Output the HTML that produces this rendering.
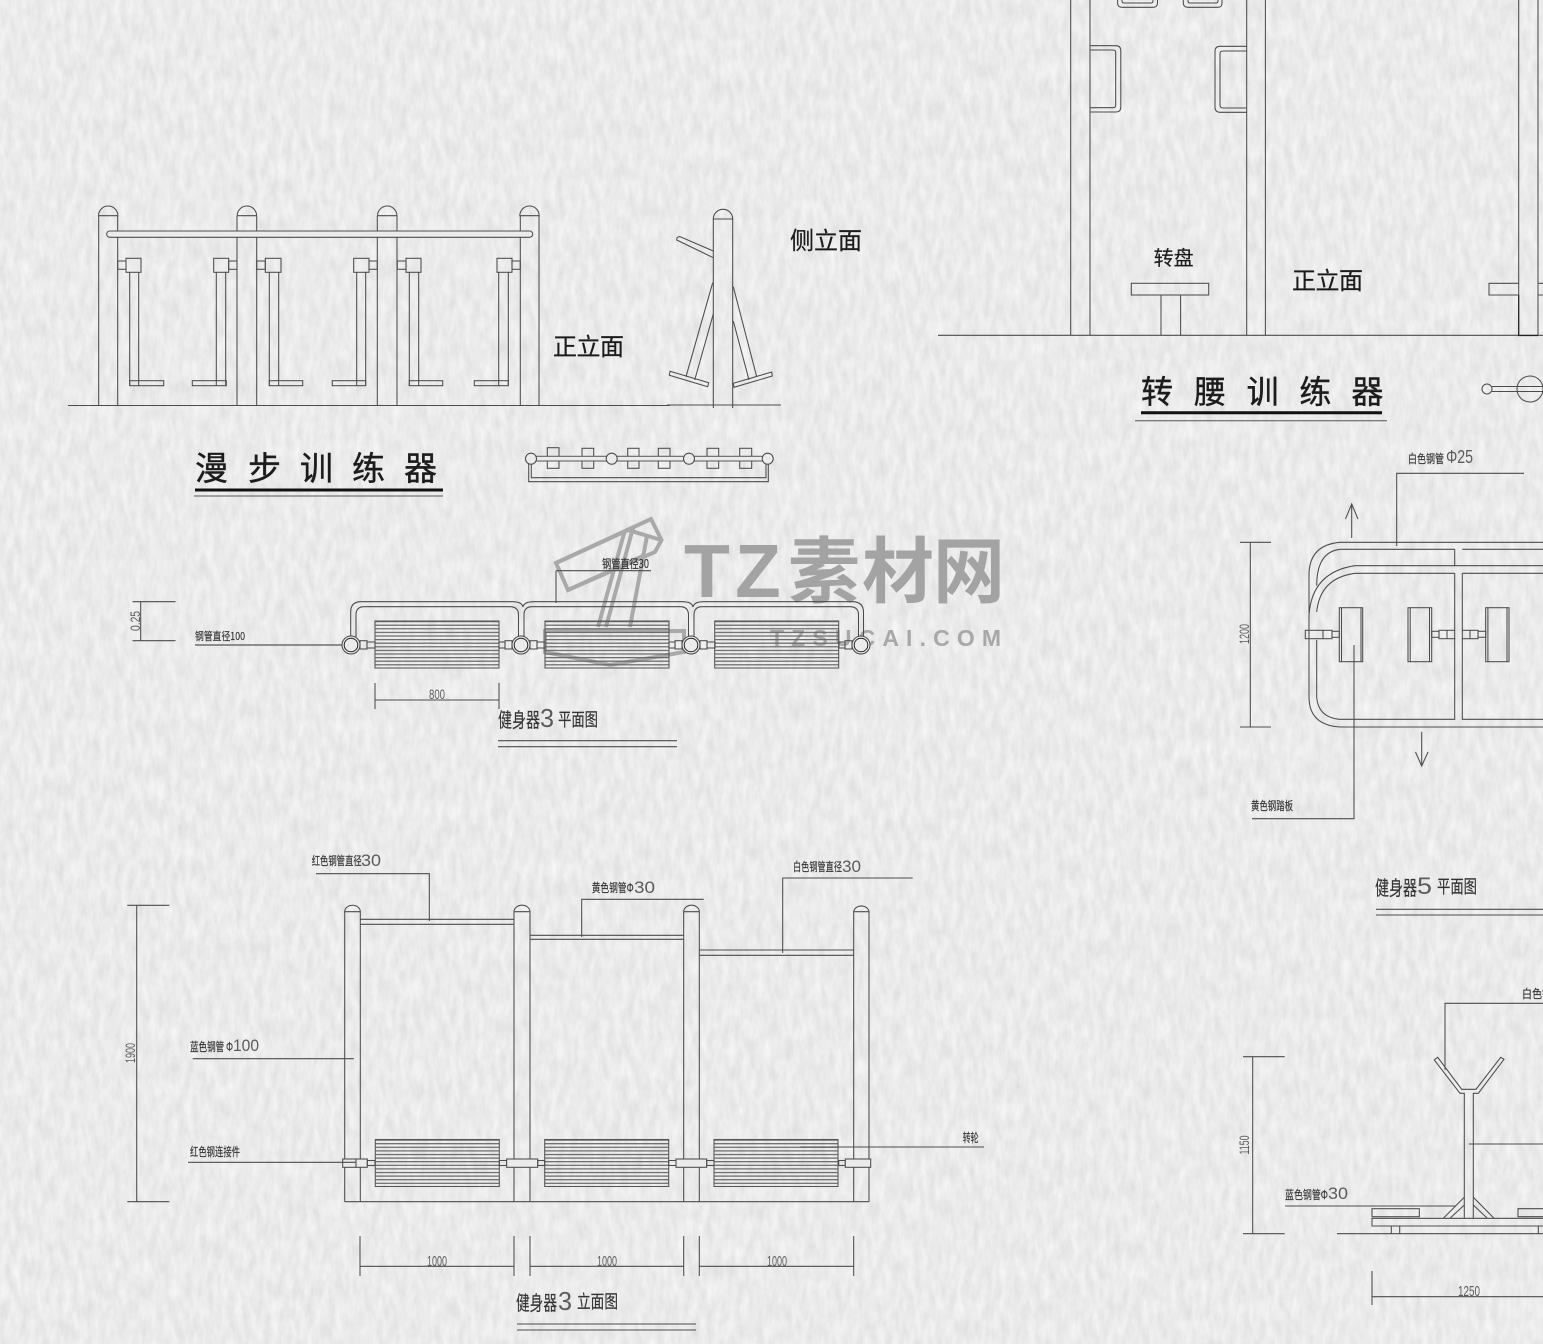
<!DOCTYPE html>
<html lang="zh">
<head>
<meta charset="utf-8">
<title>健身器 图纸</title>
<style>
html,body{margin:0;padding:0;background:#ebebeb;width:1543px;height:1344px;overflow:hidden}
svg{display:block}
text{font-family:"Liberation Sans","Noto Sans CJK SC","WenQuanYi Zen Hei",sans-serif;fill:#333;stroke:none}
.s{font-family:"Noto Sans CJK SC","WenQuanYi Zen Hei",sans-serif;fill:#333;stroke:#333;stroke-width:.15}
.n{font-family:"Liberation Sans",sans-serif;fill:#5c5c5c}
.h{font-family:"Noto Sans CJK SC","WenQuanYi Zen Hei",sans-serif;fill:#1c1c1c;stroke:#1c1c1c;stroke-width:.4}
.l{fill:none;stroke:#4c4c4c;stroke-width:1.05}
.wm{font-weight:700;fill:#a3a3a3}
</style>
</head>
<body>
<svg xmlns="http://www.w3.org/2000/svg" width="1543" height="1344" viewBox="0 0 1543 1344">
<defs>
<filter id="paper" x="0" y="0" width="100%" height="100%" color-interpolation-filters="sRGB">
<feTurbulence type="fractalNoise" baseFrequency="0.14 0.05" numOctaves="3" seed="7"/>
<feColorMatrix type="matrix" values="0.11 0 0 0 0.865  0.11 0 0 0 0.865  0.11 0 0 0 0.865  0 0 0 0 1"/>
</filter>
<pattern id="hatch" patternUnits="userSpaceOnUse" x="0" y="0" width="10" height="3.6">
<rect x="0" y="0" width="10" height="1.2" fill="#666"/>
</pattern>
<g id="roller"><rect x="0" y="0" width="124" height="47" fill="url(#hatch)" stroke="#555"/></g>
<g id="ring"><circle r="9" fill="#ebebeb" stroke="#444"/><circle r="6.8" fill="#ebebeb" stroke="#222"/></g>
<g id="dome"><path d="M0,9 A9.7,9.7 0 0 1 19.4,9 Z"/></g>
</defs>

<rect width="1543" height="1344" fill="#ebebeb"/>
<rect width="1543" height="1344" filter="url(#paper)"/>

<!-- watermark -->
<g>
<g fill="none" stroke="#a9a9a9" stroke-width="4">
<path d="M556,563 L651,519 L661.500,540 L655,552 L568,590 Z"/>
<path d="M556,563 L628,530 L648,536 L661,540 M568,590 L645,555"/>
<path d="M625,530 L598,627 M633,528 L606,627 M647,536 L630,627"/>
<path d="M545,631 H684 V652 L610,665 L545,652 Z"/>
</g>
<text class="wm" x="684" y="597" font-size="75">T</text>
<text class="wm" x="735" y="597" font-size="75">Z</text>
<text class="wm" x="788" y="597" font-size="72" style="font-family:'Noto Sans CJK SC',sans-serif">素</text>
<text class="wm" x="862" y="597" font-size="72" style="font-family:'Noto Sans CJK SC',sans-serif">材</text>
<text class="wm" x="933" y="597" font-size="72" style="font-family:'Noto Sans CJK SC',sans-serif">网</text>
<text class="wm" x="770" y="646" font-size="23" textLength="231" style="fill:#a8a8a8">TZSUCAI.COM</text>
</g>

<!-- 漫步训练器 elevation -->
<g class="l">
<path d="M68,405.500 H670 M667,405 H781"/>
<path d="M98.700,405.500 V216 M117.700,405.500 V216 M237,405.500 V216 M256.700,405.500 V216 M377.300,405.500 V216 M397,405.500 V216 M520.300,405.500 V216 M539,405.500 V216"/>
<use href="#dome" x="98.500" y="206.700"/><use href="#dome" x="237.200" y="206.700"/><use href="#dome" x="377.500" y="206.700"/><use href="#dome" x="519.800" y="206.700"/>
<rect x="106.700" y="231" width="426" height="6.300" rx="3" fill="#ebebeb" stroke="#4c4c4c"/>

<rect x="117.700" y="261" width="8.300" height="8.300"/><rect x="126" y="258.300" width="15" height="14"/>
<path d="M129.700,272.300 V385.700 M138.700,272.300 V380.700"/><rect x="129.700" y="380.700" width="34" height="5"/><path d="M138.700,380.700 V385.700"/>

<rect x="228.700" y="261" width="8.300" height="8.300"/><rect x="213.700" y="258.300" width="15" height="14"/>
<path d="M216.300,272.300 V380.700 M225.700,272.300 V385.700"/><rect x="192.300" y="380.700" width="34" height="5"/><path d="M216.300,380.700 V385.700"/>

<rect x="256.700" y="261" width="8.600" height="8.300"/><rect x="265.300" y="258.300" width="15.700" height="14"/>
<path d="M269.300,272.300 V385.700 M278.700,272.300 V380.700"/><rect x="269.300" y="380.700" width="33.400" height="5"/><path d="M278.700,380.700 V385.700"/>

<rect x="369" y="261" width="8.300" height="8.300"/><rect x="353.700" y="258.300" width="15.300" height="14"/>
<path d="M356.700,272.300 V380.700 M365.700,272.300 V385.700"/><rect x="332.300" y="380.700" width="33.400" height="5"/><path d="M356.700,380.700 V385.700"/>

<rect x="397.300" y="261" width="8.700" height="8.300"/><rect x="406" y="258.300" width="15" height="14"/>
<path d="M409.300,272.300 V385.700 M418.700,272.300 V380.700"/><rect x="409.300" y="380.700" width="33.400" height="5"/><path d="M418.700,380.700 V385.700"/>

<rect x="512" y="261" width="8.300" height="8.300"/><rect x="497" y="258.300" width="15" height="14"/>
<path d="M498.700,272.300 V380.700 M508.300,272.300 V385.700"/><rect x="474.300" y="380.700" width="34" height="5"/><path d="M498.700,380.700 V385.700"/>
</g>

<text class="h" font-size="33" x="195 248 300 352 404" y="480">漫步训练器</text>
<path d="M195,490 H443" stroke="#111" stroke-width="3" fill="none"/>
<path d="M194,496 H443" stroke="#555" stroke-width="1" fill="none"/>
<text class="h" font-size="24" x="553" y="355" textLength="71" style="stroke-width:.25">正立面</text>
<text class="h" font-size="24" x="790" y="249" textLength="72" style="stroke-width:.25">侧立面</text>

<!-- side view -->
<g class="l">
<path d="M713.300,408 V219 M732.700,408 V219 M713.300,219 H732.700" />
<path d="M713.300,219 A9.700,9.700 0 0 1 732.700,219"/>
<path d="M713.300,251 L680,236.700 Q676.500,236.500 676.700,240 L713.300,257.700"/>
<path d="M712.700,282.700 L686,376.700 M713.300,314 L694.700,380"/>
<polygon points="670,371.300 708.700,382.700 707.700,386.700 669.300,375.300"/>
<path d="M733.300,286.700 L756.700,376.700 M733.300,321 L749,380"/>
<polygon points="733.300,383.300 771.700,372 772.300,376 734,387.300"/>
</g>

<!-- plan of walker -->
<g class="l">
<rect x="547.300" y="447.700" width="11.700" height="20.600"/><rect x="582" y="448.300" width="11.700" height="20"/><rect x="627.700" y="448.300" width="11.300" height="20"/><rect x="658.300" y="448.300" width="11.700" height="20"/><rect x="707" y="448.300" width="11.700" height="20"/><rect x="739.700" y="448.300" width="12" height="20"/>
<rect x="531" y="456.300" width="237" height="4.700" fill="#ebebeb" stroke="#5c5c5c"/>
<path d="M528.700,462 V481.700 H768.300 V463 M531.300,464 V477.700 H766 V463"/>
<circle cx="531" cy="458.700" r="5.500" fill="#ebebeb"/><circle cx="611.700" cy="458.700" r="5.500" fill="#ebebeb"/><circle cx="689" cy="458.700" r="5.500" fill="#ebebeb"/><circle cx="767.700" cy="458.700" r="5.500" fill="#ebebeb"/>
</g>

<!-- 健身器3 plan -->
<g class="l">
<path d="M132.500,601.700 H175.500 M132.500,640.700 H175.500 M140.700,601.700 V640.700"/>
<path d="M195,645 H345" stroke="#555" stroke-width="1.300"/>
<path d="M556,570.700 H651 M556,570.700 V603"/>
<g fill="none">
<path d="M350.700,637 V612 Q350.700,601.700 361,601.700 H512 Q522,601.700 523,607 Q524,601.700 534,601.700 H682 Q692,601.700 693,607 Q694,601.700 704,601.700 H852 Q863.500,601.700 863.500,612 V637"/>
<path d="M356,637 V615 Q356,606.700 364,606.700 H510 Q518.500,606.700 518.500,615 V637 M524,637 V615 Q524,606.700 532,606.700 H680 Q688.500,606.700 688.500,615 V637 M694,637 V615 Q694,606.700 702,606.700 H850 Q858.500,606.700 858.500,615 V637"/>
</g>
<use href="#roller" x="375" y="621"/><use href="#roller" x="545" y="621"/><use href="#roller" x="714.700" y="621"/>
<rect x="360" y="640.700" width="7" height="8.300"/><rect x="367" y="642" width="8" height="6"/>
<rect x="499" y="642" width="6" height="6"/><rect x="505" y="640.700" width="7" height="8.300"/><rect x="530" y="640.700" width="7" height="8.300"/><rect x="537" y="642" width="8" height="6"/>
<rect x="669" y="642" width="6" height="6"/><rect x="675" y="640.700" width="7" height="8.300"/><rect x="700" y="640.700" width="7" height="8.300"/><rect x="707" y="642" width="8" height="6"/>
<rect x="839" y="642" width="6" height="6"/><rect x="845" y="640.700" width="7" height="8.300"/>
<path d="M375,700 H499 M375,683 V709 M499,683 V709"/>
<path d="M498,740.700 H677 M498,746.700 H677"/>
</g>
<use href="#ring" x="351" y="645"/><use href="#ring" x="521" y="645"/><use href="#ring" x="691" y="645"/><use href="#ring" x="861" y="645"/>
<text class="n" font-size="14" transform="translate(140,621) rotate(-90)" text-anchor="middle" textLength="20" lengthAdjust="spacingAndGlyphs">0.25</text>
<text class="s" font-size="11" x="195" y="640" textLength="50" lengthAdjust="spacingAndGlyphs">钢管直径100</text>
<text class="s" font-size="12" x="602" y="568" textLength="47" lengthAdjust="spacingAndGlyphs">钢管直径30</text>
<text class="n" font-size="14" x="429" y="699" textLength="16" lengthAdjust="spacingAndGlyphs">800</text>
<text class="s" font-size="20" x="498" y="727" textLength="42" lengthAdjust="spacingAndGlyphs">健身器</text>
<text class="n" font-size="26" x="540" y="727" textLength="14" lengthAdjust="spacingAndGlyphs">3</text>
<text class="s" font-size="18" x="558" y="726" textLength="40" lengthAdjust="spacingAndGlyphs">平面图</text>

<!-- 健身器3 elevation -->
<g class="l">
<path d="M344.700,1201.700 H869"/>
<path d="M344.700,1201.700 V911.700 M360.300,1201.700 V911.700 M514,1201.700 V911.700 M530,1201.700 V911.700 M683.700,1201.700 V911.700 M699.300,1201.700 V911.700 M853.700,1201.700 V911.700 M869,1201.700 V911.700"/>
<path d="M344.700,911.700 A7.800,6.500 0 0 1 360.300,911.700 Z M514,911.700 A8,6.500 0 0 1 530,911.700 Z M683.700,911.700 A7.800,6.500 0 0 1 699.300,911.700 Z M853.700,911.700 A7.700,6.500 0 0 1 869,911.700 Z"/>
<path d="M360.300,919.300 H514 M360.300,924.300 H514 M530,935.300 H683.700 M530,939.300 H683.700 M699.300,950 H853.700 M699.300,955.300 H853.700"/>
<use href="#roller" x="375.300" y="1139.500"/><use href="#roller" x="544.700" y="1139.500"/><use href="#roller" x="714" y="1139.500"/>
<rect x="342.700" y="1159" width="13.300" height="8.300" fill="#ebebeb"/><rect x="356" y="1159" width="11.300" height="8.300" fill="#ebebeb"/><rect x="367.300" y="1160.500" width="7.700" height="5"/>
<rect x="499.300" y="1160.500" width="7.400" height="5"/><rect x="506.700" y="1159" width="31" height="8.300" fill="#ebebeb"/><rect x="537.700" y="1160.500" width="7" height="5"/>
<rect x="668.700" y="1160.500" width="7.300" height="5"/><rect x="676" y="1159" width="30.700" height="8.300" fill="#ebebeb"/><rect x="706.700" y="1160.500" width="7.300" height="5"/>
<rect x="838.700" y="1160.500" width="6.600" height="5"/><rect x="845.300" y="1159" width="25.400" height="8.300" fill="#ebebeb"/>
<path d="M316,873.700 H429.300 V921"/>
<path d="M703.700,899.300 H581.700 V937"/>
<path d="M912.700,878 H782.700 V953"/>
<path d="M192.700,1058.700 H353.700"/>
<path d="M188,1162.300 H356"/>
<path d="M800,1147 H984"/>
<path d="M127.300,905.300 H169.300 M127.300,1201.700 H169.300 M136.700,905.300 V1201.700"/>
<path d="M360,1266.300 H514 M360,1236 V1276 M514,1236 V1276 M530,1266.300 H683.700 M530,1236 V1276 M683.700,1236 V1276 M699.300,1266.300 H853.700 M699.300,1236 V1276 M853.700,1236 V1276"/>
<path d="M517,1324 H696 M517,1330 H696"/>
</g>
<text class="s" font-size="12" x="311.700" y="865" textLength="50" lengthAdjust="spacingAndGlyphs">红色钢管直径</text>
<text class="n" font-size="17" x="361" y="866" textLength="20" lengthAdjust="spacingAndGlyphs">30</text>
<text class="s" font-size="12" x="591.700" y="892" textLength="42" lengthAdjust="spacingAndGlyphs">黄色钢管Φ</text>
<text class="n" font-size="17" x="634" y="893" textLength="21" lengthAdjust="spacingAndGlyphs">30</text>
<text class="s" font-size="12" x="793" y="871" textLength="49" lengthAdjust="spacingAndGlyphs">白色钢管直径</text>
<text class="n" font-size="17" x="842" y="872" textLength="19" lengthAdjust="spacingAndGlyphs">30</text>
<text class="s" font-size="12" x="190" y="1051" textLength="43" lengthAdjust="spacingAndGlyphs">蓝色钢管 Φ</text>
<text class="n" font-size="17" x="233" y="1051" textLength="26" lengthAdjust="spacingAndGlyphs">100</text>
<text class="s" font-size="12" x="190" y="1156" textLength="50" lengthAdjust="spacingAndGlyphs">红色钢连接件</text>
<text class="s" font-size="12" x="962.700" y="1142" textLength="16" lengthAdjust="spacingAndGlyphs">转轮</text>
<text class="n" font-size="14" transform="translate(135,1053) rotate(-90)" text-anchor="middle" textLength="20" lengthAdjust="spacingAndGlyphs">1900</text>
<text class="n" font-size="15" x="427" y="1266" textLength="20" lengthAdjust="spacingAndGlyphs">1000</text>
<text class="n" font-size="15" x="597" y="1266" textLength="20" lengthAdjust="spacingAndGlyphs">1000</text>
<text class="n" font-size="15" x="767" y="1266" textLength="20" lengthAdjust="spacingAndGlyphs">1000</text>
<text class="s" font-size="20" x="516" y="1310" textLength="41" lengthAdjust="spacingAndGlyphs">健身器</text>
<text class="n" font-size="26" x="558" y="1310" textLength="14" lengthAdjust="spacingAndGlyphs">3</text>
<text class="s" font-size="18" x="577" y="1308" textLength="41" lengthAdjust="spacingAndGlyphs">立面图</text>

<!-- 转腰训练器 elevation -->
<g class="l">
<path d="M938,335.300 H1543"/>
<path d="M1070.700,0 V335 M1090,0 V335 M1246.700,0 V335 M1265.400,0 V335 M1518.700,0 V295 M1538,0 V295"/>
<path d="M1518.700,295 V335.500 H1538" stroke="#222" stroke-width="1.300"/>
<path d="M1538,295 V335"/>
<path d="M1117.600,0 V3 Q1117.600,7.300 1122,7.300 H1153 Q1157.500,7.300 1157.500,3 V0 M1122,0 V1 Q1122,3 1124,3 H1151 Q1153,3 1153,1 V0"/>
<path d="M1183.300,0 V3 Q1183.300,7.300 1188,7.300 H1218 Q1222,7.300 1222,3 V0 M1188,0 V1 Q1188,3 1190,3 H1216 Q1218,3 1218,1 V0"/>
<path d="M1090,45.700 H1115.800 Q1120.800,45.700 1120.800,50.700 V107 Q1120.800,112 1115.800,112 H1090 M1090,50 H1113 Q1115.700,50 1115.700,52.700 V105 Q1115.700,107.700 1113,107.700 H1090"/>
<path d="M1246.700,46.300 H1220 Q1215,46.300 1215,51.300 V107.300 Q1215,112.300 1220,112.300 H1246.700 M1246.700,51 H1223 Q1220,51 1220,54 V105 Q1220,108 1223,108 H1246.700"/>
<rect x="1131.300" y="283.300" width="77.400" height="11.700"/>
<path d="M1161,295 V335 M1180.600,295 V335"/>
<path d="M1518.700,283.300 H1489 V295 H1518.700 M1538,283.300 H1543 M1538,295 H1543"/>
<circle cx="1487" cy="389" r="5"/>
<path d="M1492,386.500 H1543 M1492,391.500 H1543"/>
<circle cx="1530" cy="389" r="13"/>
</g>
<text class="h" font-size="20" x="1153.600" y="265" textLength="40" style="stroke-width:.2">转盘</text>
<text class="h" font-size="24" x="1292" y="289" textLength="71" style="stroke-width:.25">正立面</text>
<text class="h" font-size="32" x="1141 1194 1246.600 1299.400 1351.400" y="403">转腰训练器</text>
<path d="M1141,412.700 H1382" stroke="#111" stroke-width="3" fill="none"/>
<path d="M1135,420.700 H1387" stroke="#555" stroke-width="1" fill="none"/>

<!-- 健身器5 plan -->
<g class="l">
<path d="M1396.700,546 V473.300 H1524"/>
<path d="M1351.700,538 V504 M1345.500,519 L1351.700,504 L1358,519"/>
<path d="M1421.700,731.700 V766 M1415.500,752 L1421.700,766 L1428,752"/>
<path d="M1240,542.300 H1271 M1240,727 H1271 M1250.300,542.300 V727"/>
<path d="M1543,542.300 H1340 Q1309,545 1309,575 V613"/>
<path d="M1455,549.300 H1340 Q1316.700,552 1316.700,585.700"/>
<path d="M1543,549.300 H1462.300"/>
<path d="M1543,565.700 H1355 Q1312,572 1309,615 V697 Q1309,725 1340,727 H1543"/>
<path d="M1454.700,549.300 V565.700"/>
<path d="M1454.700,573.300 H1355 Q1320,578 1316.700,612"/>
<path d="M1316.700,640 V697 Q1318,717 1339,719.300 H1454.700 V638 M1454.700,630 V573.300 M1462.300,573.300 V630 M1462.300,638 V719.300 H1543 M1462.300,573.300 H1543"/>
<rect x="1339.300" y="607.700" width="23.400" height="54"/><path d="M1341.500,607.700 V661.700 M1361,607.700 V661.700"/>
<rect x="1408" y="607.700" width="23.700" height="54"/><path d="M1410.200,607.700 V661.700 M1429.500,607.700 V661.700"/>
<rect x="1485.700" y="607.700" width="23.300" height="54"/><path d="M1487.900,607.700 V661.700 M1507,607.700 V661.700"/>
<rect x="1305.300" y="630.300" width="26.700" height="8.400"/><path d="M1323,630.300 V638.700"/><rect x="1332" y="631.300" width="7.300" height="6"/>
<rect x="1431.700" y="631.300" width="7.300" height="6"/><rect x="1439" y="630.300" width="15.700" height="8.400"/><path d="M1447,630.300 V638.700"/>
<rect x="1462.300" y="630.300" width="15.700" height="8.400"/><path d="M1470,630.300 V638.700"/><rect x="1478" y="631.300" width="7.700" height="6"/>
<path d="M1354,645 V818.700 H1252"/>
<path d="M1376,909.300 H1543 M1376,915 H1543"/>
</g>
<text class="s" font-size="12" x="1408" y="463" textLength="36" lengthAdjust="spacingAndGlyphs">白色钢管</text>
<text class="n" font-size="18" x="1446" y="463" textLength="27" lengthAdjust="spacingAndGlyphs">Φ25</text>
<text class="n" font-size="14" transform="translate(1249,634) rotate(-90)" text-anchor="middle" textLength="20" lengthAdjust="spacingAndGlyphs">1200</text>
<text class="s" font-size="12" x="1251" y="810" textLength="42" lengthAdjust="spacingAndGlyphs">黄色钢踏板</text>
<text class="s" font-size="20" x="1375" y="895" textLength="42" lengthAdjust="spacingAndGlyphs">健身器</text>
<text class="n" font-size="24" x="1417" y="894" textLength="15" lengthAdjust="spacingAndGlyphs">5</text>
<text class="s" font-size="18" x="1437" y="893" textLength="40" lengthAdjust="spacingAndGlyphs">平面图</text>

<!-- 健身器5 elevation -->
<g class="l">
<path d="M1543,1003.300 H1445 V1070"/>
<path d="M1243,1056.700 H1284.700 M1243,1233.700 H1284.700 M1252.700,1056.700 V1233.700"/>
<path d="M1337,1233.700 H1543"/>
<path d="M1464.300,1218.300 V1093.300 H1460 L1434.300,1060 L1437.700,1057.300 L1461.700,1089.300 H1476 L1500.700,1057.300 L1504,1059.300 L1478.300,1093.300 H1473.300 V1218.300"/>
<path d="M1469,1144 H1543"/>
<path d="M1464.300,1197.300 L1443.300,1218.300 M1464.300,1205 L1450,1218.300 M1473.300,1197.300 L1494,1218.300 M1473.300,1205 L1487.300,1218.300"/>
<path d="M1543,1218.300 H1372 V1226 H1543"/>
<rect x="1372" y="1208.700" width="47.300" height="8"/>
<path d="M1543,1208.700 H1518 V1216.700 H1543"/>
<path d="M1391.300,1226 V1233.700 M1399.700,1226 V1233.700 M1538.300,1226 V1233.700"/>
<path d="M1285,1206 H1455"/>
<path d="M1372,1296.700 H1543 M1372,1271 V1305"/>
</g>
<text class="s" font-size="12" x="1522" y="998" textLength="40" lengthAdjust="spacingAndGlyphs">白色钢管</text>
<text class="n" font-size="14" transform="translate(1249,1145) rotate(-90)" text-anchor="middle" textLength="19" lengthAdjust="spacingAndGlyphs">1150</text>
<text class="s" font-size="12" x="1285" y="1199" textLength="43" lengthAdjust="spacingAndGlyphs">蓝色钢管Φ</text>
<text class="n" font-size="17" x="1328" y="1199" textLength="20" lengthAdjust="spacingAndGlyphs">30</text>
<text class="n" font-size="15" x="1458" y="1296" textLength="22" lengthAdjust="spacingAndGlyphs">1250</text>
<text class="s" font-size="20" x="1395" y="1361" textLength="42" lengthAdjust="spacingAndGlyphs">健身器</text>
<text class="n" font-size="24" x="1437" y="1361" textLength="15" lengthAdjust="spacingAndGlyphs">5</text>
<text class="s" font-size="18" x="1457" y="1360" textLength="40" lengthAdjust="spacingAndGlyphs">立面图</text>
</svg>
</body>
</html>
